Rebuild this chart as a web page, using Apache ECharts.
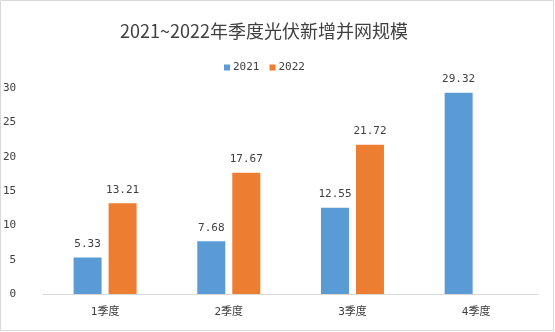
<!DOCTYPE html>
<html><head><meta charset="utf-8">
<script src="https://cdn.jsdelivr.net/npm/echarts@6/dist/echarts.min.js"></script>
<style>html,body{margin:0;padding:0;background:#fff}#c{width:555px;height:332px}</style>
</head><body><div id="c"></div>
<script>
const categories = ['1季度', '2季度', '3季度', '4季度'];
const seriesNames = ['2021', '2022'];
const values2021 = [5.33, 7.68, 12.55, 29.32];
const values2022 = [13.21, 17.67, 21.72, null];
const yTicks = [0, 5, 10, 15, 20, 25, 30];

const FONT = '"DejaVu Sans Mono", "Noto Sans CJK SC", monospace';
const chart = echarts.init(document.getElementById('c'));
chart.setOption({
  animation: false,
  color: ['#5b9bd5', '#ed7d31'],
  graphic: [{
    type: 'rect', shape: { x: 0.5, y: 0.5, width: 553, height: 330 },
    style: { fill: 'none', stroke: '#d9d9d9', lineWidth: 1 }, z: -1
  }],
  title: {
    text: '2021~2022年季度光伏新增并网规模',
    left: 115, top: 17,
    textStyle: { fontFamily: '"Noto Sans CJK SC", "DejaVu Sans Mono", sans-serif', fontSize: 18, fontWeight: 'normal', color: '#404040' }
  },
  legend: {
    data: seriesNames, top: 57, left: 219,
    itemWidth: 6, itemHeight: 6, itemGap: 10,
    icon: 'rect',
    textStyle: { fontFamily: FONT, fontSize: 11, color: '#404040', padding: [0, 0, 0, -2] }
  },
  grid: { left: 40, right: 17, top: 88, bottom: 38 },
  xAxis: {
    type: 'category', data: categories,
    axisLine: { lineStyle: { color: '#d9d9d9' } },
    axisTick: { show: false },
    axisLabel: { fontFamily: FONT, fontSize: 11, color: '#404040', margin: 13 }
  },
  yAxis: {
    type: 'value', min: yTicks[0], max: yTicks[yTicks.length - 1], interval: 5,
    axisLine: { show: false }, axisTick: { show: false },
    splitLine: { show: false },
    axisLabel: { fontFamily: FONT, fontSize: 11, color: '#404040', margin: 27 }
  },
  series: [
    { name: seriesNames[0], type: 'bar', data: values2021, barWidth: 28, barGap: '25%',
      label: { show: true, position: 'top', distance: 8, fontFamily: FONT, fontSize: 11, color: '#404040' } },
    { name: seriesNames[1], type: 'bar', data: values2022, barWidth: 28, barGap: '25%',
      label: { show: true, position: 'top', distance: 8, fontFamily: FONT, fontSize: 11, color: '#404040' } }
  ]
});
</script></body></html>
